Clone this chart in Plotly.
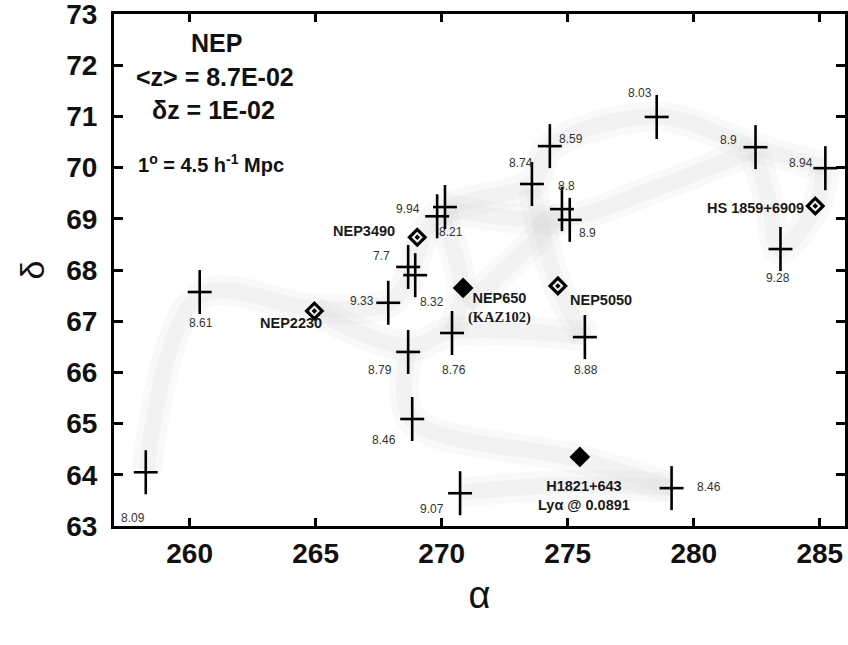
import plotly.graph_objects as go

# ---- data ----
cross_ra = [258.26, 260.40, 267.88, 268.67, 268.95, 269.82, 270.13, 273.58, 274.29, 274.77,
            275.08, 275.68, 270.41, 268.67, 268.83, 270.73, 279.12, 278.53, 282.45, 285.22, 283.44]
cross_dec = [64.05, 67.57, 67.36, 68.06, 67.90, 69.05, 69.23, 69.68, 70.42, 69.19,
             68.98, 66.69, 66.77, 66.40, 65.09, 63.64, 63.74, 70.99, 70.40, 69.99, 68.41]
cross_labels = ["8.09", "8.61", "9.33", "7.7", "8.32", "9.94", "8.21", "8.74", "8.59", "8.8",
                "8.9", "8.88", "8.76", "8.79", "8.46", "9.07", "8.46", "8.03", "8.9", "8.94", "9.28"]

open_ra = [264.95, 269.03, 274.61, 284.82]
open_dec = [67.20, 68.64, 67.69, 69.25]
open_labels = ["NEP2230", "NEP3490", "NEP5050", "HS 1859+6909"]

filled_ra = [270.85, 275.48]
filled_dec = [67.65, 64.35]
filled_labels = ["NEP650<br><span style='font-family:Liberation Serif'>(KAZ102)</span>",
                 "H1821+643<br>Ly\u03b1 @ 0.0891"]

filaments = [
    ([258.3, 260.4, 264.9, 267.9, 268.8], [64.1, 67.5, 67.25, 67.35, 67.9]),
    ([264.9, 268.7, 270.4, 275.7], [67.2, 66.5, 66.8, 66.7]),
    ([268.8, 269.9, 273.6, 274.3, 278.5, 282.4, 285.2], [67.9, 69.1, 69.7, 70.4, 71.0, 70.4, 70.0]),
    ([270.1, 274.8, 278.5, 282.4], [69.2, 69.0, 69.6, 70.35]),
    ([271.0, 274.8], [67.3, 69.1]),
    ([273.6, 274.6, 275.7], [69.6, 67.7, 66.7]),
    ([282.4, 283.0, 283.4, 284.8, 285.2], [70.3, 69.3, 68.4, 69.2, 70.0]),
    ([268.7, 268.8, 275.5, 279.1], [66.4, 65.1, 64.3, 63.75]),
    ([270.7, 275.0, 279.1], [63.65, 63.8, 63.75]),
    ([270.0, 270.8, 270.4], [69.1, 67.6, 66.8]),
]

x_ticks = [260, 265, 270, 275, 280, 285]
y_ticks = list(range(63, 74))

# ---- styles / offsets (pixels) ----
cross_off = [(-13, -46), (1, -31), (-26, 2), (-27, 11), (17, -27), (-29, 7), (6, -25), (-11, 21),
             (21, 7), (5, 23), (18, -13), (1, -33), (2, -37), (-28, -18), (-28, -21), (-28, -16),
             (37, 1), (-17, 24), (-27, 7), (-24, 5), (-2, -29)]
open_off = [(-23, -12), (-53, 6), (43, -14), (-60, -2)]
filled_off = [(36, -20), (4, -39)]

FONT = "Liberation Sans, Arial, sans-serif"

fig = go.Figure()

for fx, fy in filaments:
    fig.add_trace(go.Scatter(x=fx, y=fy, mode="lines", hoverinfo="skip", showlegend=False,
                             line=dict(color="rgba(200,200,200,0.10)", width=30, shape="spline")))
    fig.add_trace(go.Scatter(x=fx, y=fy, mode="lines", hoverinfo="skip", showlegend=False,
                             line=dict(color="rgba(205,205,205,0.16)", width=16, shape="spline")))

fig.add_trace(go.Scatter(
    x=cross_ra, y=cross_dec, mode="markers", showlegend=False,
    marker=dict(size=2, color="black"),
    error_x=dict(type="constant", value=0.475, color="black", thickness=2.6, width=0),
    error_y=dict(type="constant", value=0.43, color="black", thickness=2.6, width=0),
))

fig.add_trace(go.Scatter(
    x=open_ra, y=open_dec, mode="markers", showlegend=False,
    marker=dict(symbol="diamond-open-dot", size=12, color="black", line=dict(width=3.2, color="black")),
))

fig.add_trace(go.Scatter(
    x=filled_ra, y=filled_dec, mode="markers", showlegend=False,
    marker=dict(symbol="diamond", size=16, color="black"),
))

for x, y, t, (dx, dy) in zip(cross_ra, cross_dec, cross_labels, cross_off):
    fig.add_annotation(x=x, y=y, text=t, showarrow=False, xshift=dx, yshift=dy,
                       font=dict(family=FONT, size=12, color="#333333"))

for x, y, t, (dx, dy) in zip(open_ra, open_dec, open_labels, open_off):
    fig.add_annotation(x=x, y=y, text=t, showarrow=False, xshift=dx, yshift=dy,
                       font=dict(family=FONT, size=14.5, color="#1a1a1a", weight="bold"))

for x, y, t, (dx, dy) in zip(filled_ra, filled_dec, filled_labels, filled_off):
    fig.add_annotation(x=x, y=y, text=t, showarrow=False, xshift=dx, yshift=dy,
                       font=dict(family=FONT, size=14.5, color="#1a1a1a", weight="bold"))

info = [("NEP", 261.07, 72.43, 25), ("&lt;z&gt; = 8.7E-02", 260.99, 71.77, 25),
        ("\u03b4z = 1E-02", 260.95, 71.12, 25),
        ("1<sup>o</sup> = 4.5 h<sup>-1</sup> Mpc", 260.83, 70.09, 20)]
for t, x, y, s in info:
    fig.add_annotation(x=x, y=y, text=t, showarrow=False,
                       font=dict(family=FONT, size=s, color="#111111", weight="bold"))

fig.update_layout(
    width=848, height=645,
    margin=dict(l=114, r=3, t=14, b=119),
    plot_bgcolor="white", paper_bgcolor="white",
    showlegend=False,
)
fig.update_xaxes(range=[257, 286], tickvals=x_ticks, ticks="inside", ticklen=8, tickwidth=2.5,
                 tickcolor="black", showline=True, linewidth=3, linecolor="black", mirror="ticks",
                 showgrid=False, zeroline=False, ticklabelstandoff=0, automargin=False,
                 ticklabeloverflow="allow",
                 tickfont=dict(family=FONT, size=28, color="#111111", weight="bold"),
                 title=dict(text="\u03b1", font=dict(family=FONT, size=38, color="#111111"), standoff=14))
fig.update_yaxes(range=[63, 73.001], tickvals=y_ticks, ticks="inside", ticklen=9, tickwidth=2.5,
                 tickcolor="black", showline=True, linewidth=3, linecolor="black", mirror="ticks",
                 showgrid=False, zeroline=False, ticklabelstandoff=8, automargin=False,
                 ticklabeloverflow="allow",
                 tickfont=dict(family=FONT, size=28, color="#111111", weight="bold"),
                 title=dict(text="\u03b4", font=dict(family=FONT, size=34, color="#111111"), standoff=12))

fig.write_html("out.html", config={"displayModeBar": False},
               post_script="document.body.style.margin='0';")
